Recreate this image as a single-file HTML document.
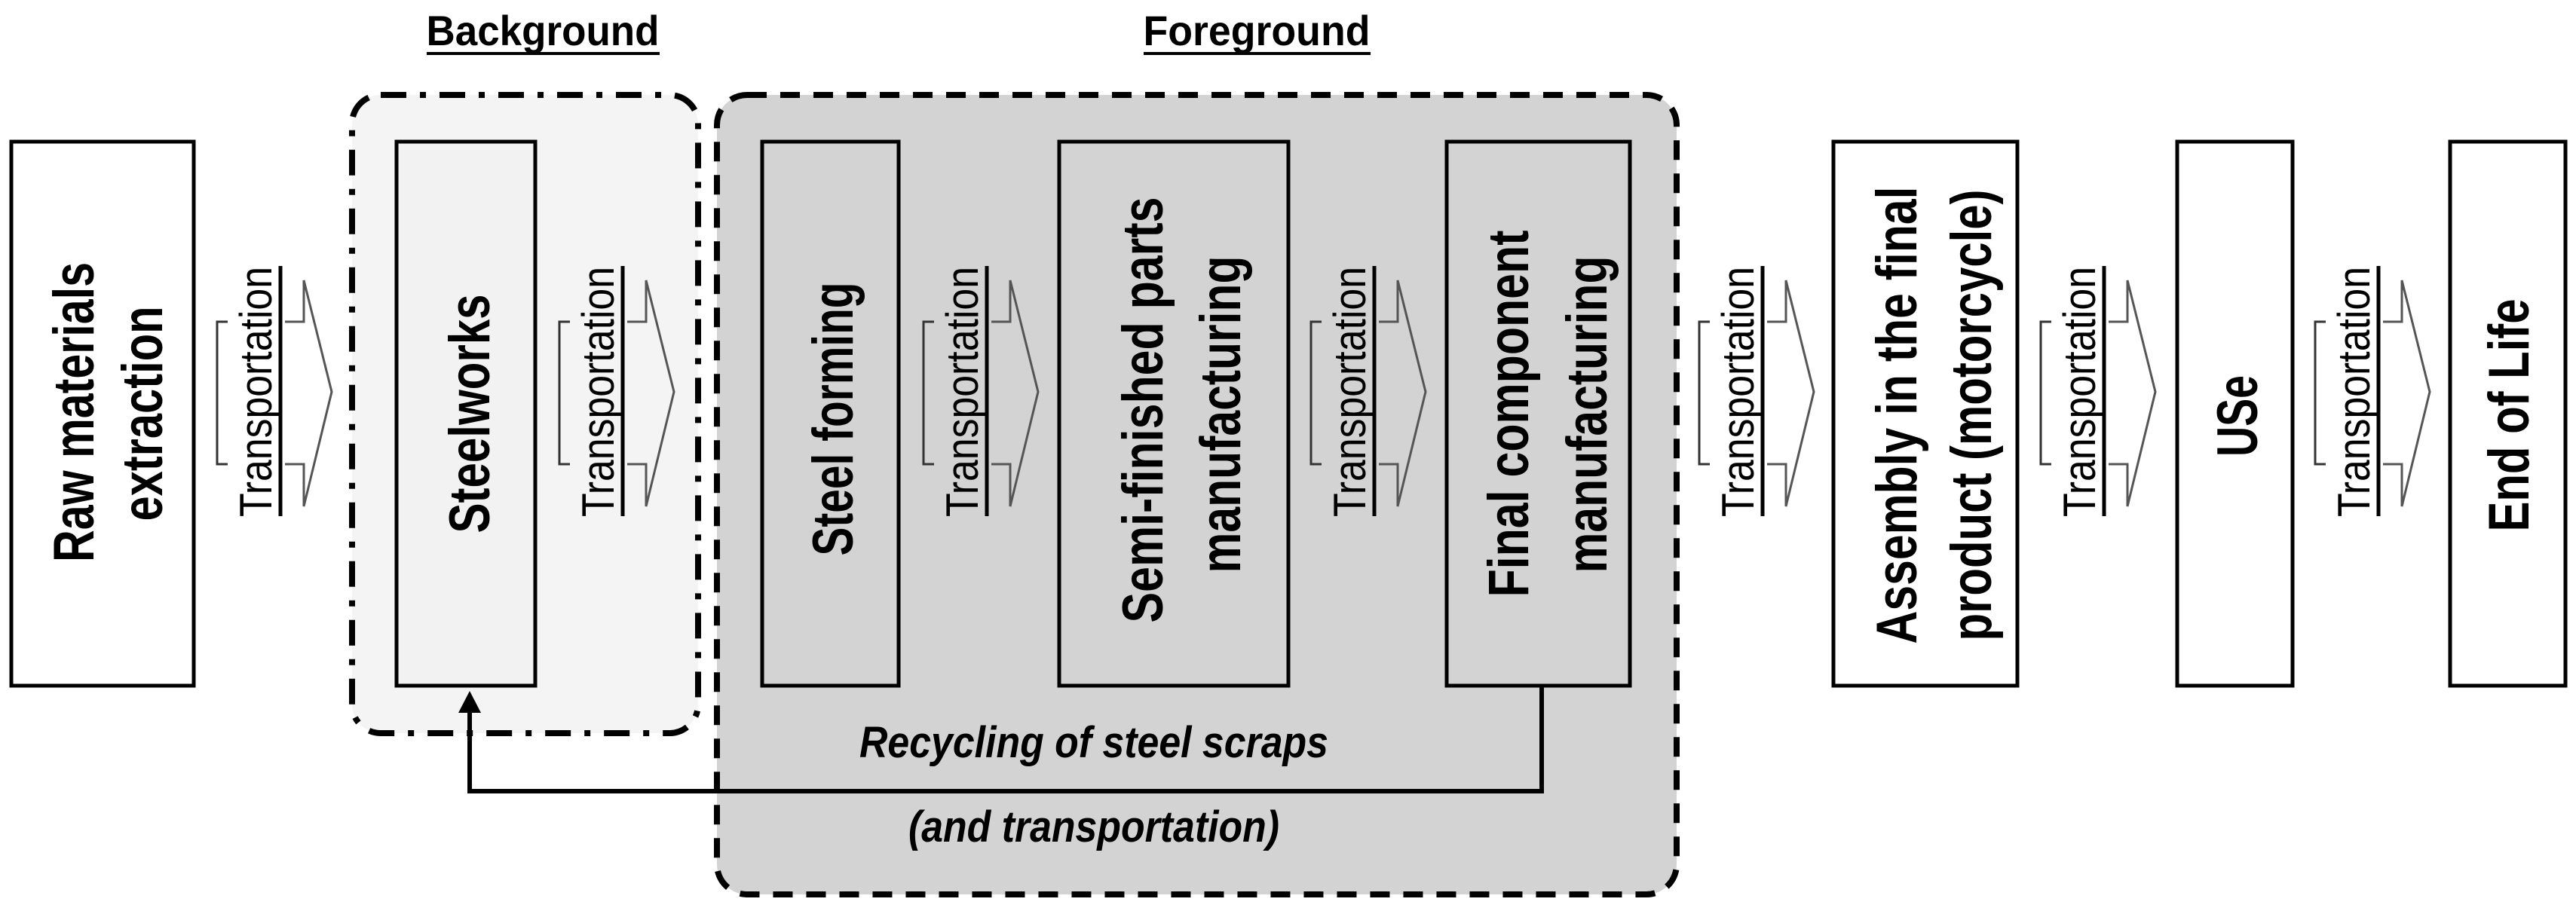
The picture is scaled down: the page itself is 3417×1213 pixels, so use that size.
<!DOCTYPE html>
<html><head><meta charset="utf-8"><style>html,body{margin:0;padding:0;background:#fff}svg{display:block}</style></head>
<body>
<svg width="3417" height="1213" viewBox="0 0 3417 1213" xmlns="http://www.w3.org/2000/svg" font-family="Liberation Sans, Arial, sans-serif">
<defs>
<g id="arr">
  <path d="M14,427 H0 V616 H14" fill="none" stroke="#333" stroke-width="3"/>
  <path d="M90,427 H115 V372 L152,520 L115,672 V616 H90" fill="none" stroke="#555" stroke-width="3"/>
  <line x1="84" y1="353" x2="84" y2="685" stroke="#000" stroke-width="5"/>
  <text transform="translate(72,520) rotate(-90)" text-anchor="middle" font-size="60" textLength="332" lengthAdjust="spacingAndGlyphs">Transportation</text>
</g>
</defs>
<!-- containers -->
<rect x="467" y="126" width="459" height="847" rx="38" fill="#f4f4f4" stroke="#000" stroke-width="8" stroke-dasharray="34,18,8,18"/>
<rect x="951" y="126" width="1273" height="1061" rx="40" fill="#d3d3d3" stroke="#000" stroke-width="8" stroke-dasharray="26,18"/>
<!-- titles -->
<text x="720" y="60" text-anchor="middle" font-size="56" font-weight="bold" textLength="309" lengthAdjust="spacingAndGlyphs">Background</text>
<line x1="566" y1="71" x2="875" y2="71" stroke="#000" stroke-width="4"/>
<text x="1667" y="60" text-anchor="middle" font-size="56" font-weight="bold" textLength="301" lengthAdjust="spacingAndGlyphs">Foreground</text>
<line x1="1517" y1="71" x2="1818" y2="71" stroke="#000" stroke-width="4"/>
<!-- boxes -->
<g stroke="#000" stroke-width="5">
<rect x="15" y="188" width="242" height="722" fill="#fff"/>
<rect x="526" y="188" width="184" height="722" fill="#f2f2f2"/>
<rect x="1011" y="188" width="181" height="722" fill="#d3d3d3"/>
<rect x="1405" y="188" width="304" height="722" fill="#d3d3d3"/>
<rect x="1919" y="188" width="243" height="722" fill="#d3d3d3"/>
<rect x="2432" y="188" width="244" height="722" fill="#fff"/>
<rect x="2888" y="188" width="153" height="722" fill="#fff"/>
<rect x="3250" y="188" width="153" height="722" fill="#fff"/>
</g>
<!-- box labels -->
<g font-size="76" text-anchor="middle" font-weight="bold" fill="#000">
<text transform="translate(124,547) rotate(-90)" textLength="398" lengthAdjust="spacingAndGlyphs">Raw materials</text>
<text transform="translate(215,549) rotate(-90)" textLength="285" lengthAdjust="spacingAndGlyphs">extraction</text>
<text transform="translate(649,549) rotate(-90)" textLength="317" lengthAdjust="spacingAndGlyphs">Steelworks</text>
<text transform="translate(1131,556) rotate(-90)" textLength="363" lengthAdjust="spacingAndGlyphs">Steel forming</text>
<text transform="translate(1542,544) rotate(-90)" textLength="565" lengthAdjust="spacingAndGlyphs">Semi-finished parts</text>
<text transform="translate(1645,550) rotate(-90)" textLength="421" lengthAdjust="spacingAndGlyphs">manufacturing</text>
<text transform="translate(2027,549) rotate(-90)" textLength="487" lengthAdjust="spacingAndGlyphs">Final component</text>
<text transform="translate(2131,550) rotate(-90)" textLength="421" lengthAdjust="spacingAndGlyphs">manufacturing</text>
<text transform="translate(2542,551) rotate(-90)" textLength="607" lengthAdjust="spacingAndGlyphs">Assembly in the final</text>
<text transform="translate(2641,551) rotate(-90)" textLength="599" lengthAdjust="spacingAndGlyphs">product (motorcycle)</text>
<text transform="translate(2994,552) rotate(-90)" textLength="108" lengthAdjust="spacingAndGlyphs">USe</text>
<text transform="translate(3354,551) rotate(-90)" textLength="309" lengthAdjust="spacingAndGlyphs">End of Life</text>
</g>
<!-- arrows -->
<use href="#arr" x="288"/>
<use href="#arr" x="742" transform="translate(0,0)"/>
<use href="#arr" x="1225"/>
<use href="#arr" x="1739"/>
<use href="#arr" x="2254"/>
<use href="#arr" x="2707"/>
<use href="#arr" x="3071"/>
<!-- recycling -->
<path d="M2045,910 V1050 H623 V940" fill="none" stroke="#000" stroke-width="6"/>
<polygon points="623,917 608,946 638,946" fill="#000"/>
<text x="1140" y="1005" font-size="58" font-weight="bold" font-style="italic" textLength="622" lengthAdjust="spacingAndGlyphs">Recycling of steel scraps</text>
<text x="1205" y="1117" font-size="58" font-weight="bold" font-style="italic" textLength="492" lengthAdjust="spacingAndGlyphs">(and transportation)</text>
</svg>
</body></html>
